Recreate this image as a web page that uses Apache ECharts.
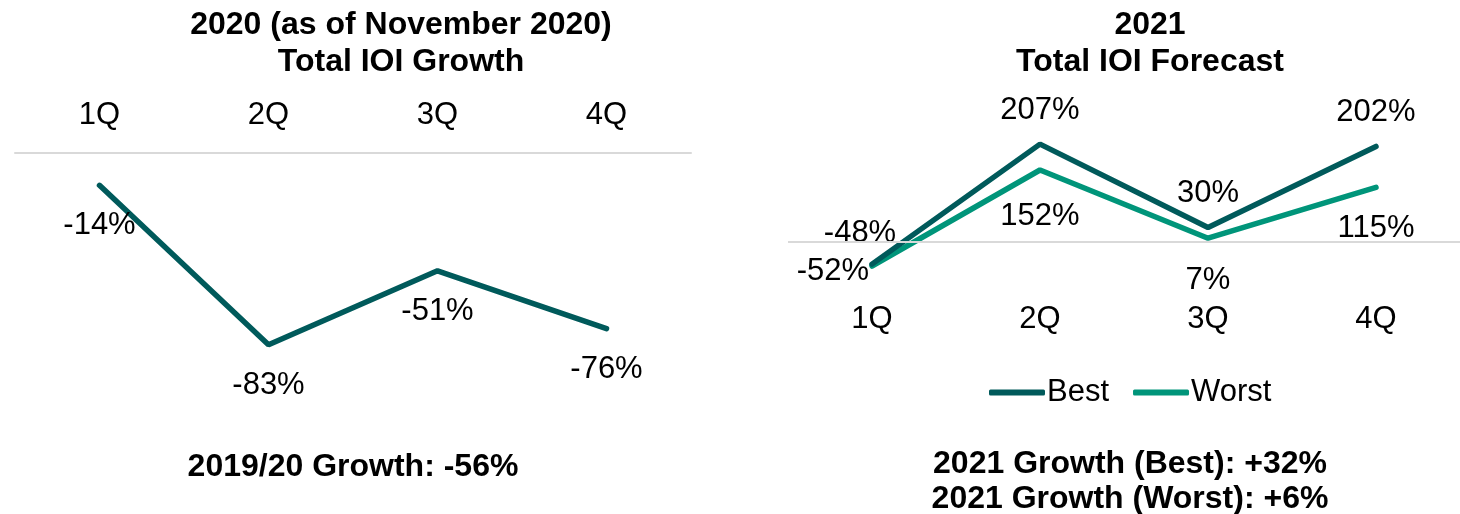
<!DOCTYPE html>
<html>
<head>
<meta charset="utf-8">
<script src="https://cdn.jsdelivr.net/npm/echarts@6/dist/echarts.min.js"></script>
<style>
  html, body { margin: 0; padding: 0; background: #fff; }
  #chart { width: 1460px; height: 514px; }
</style>
</head>
<body>
<div id="chart"></div>
<script>
  // data
  const quarters = ['1Q', '2Q', '3Q', '4Q']
  const growth2020 = [-14, -83, -51, -76]
  const best2021 = [-48, 207, 30, 202]
  const worst2021 = [-52, 152, 7, 115]

  const DARK = '#005a5b'
  const LIGHT = '#00957a'
  const FONT = "'Liberation Sans', Arial, sans-serif"

  const pct = p => p.value + '%'

  // per-point label placement, right chart
  const bestLabels = [
    {position: 'top', distance: 15, offset: [-12, 0]},
    {position: 'top', distance: 18},
    {position: 'top', distance: 18},
    {position: 'top', distance: 19}
  ]
  const worstLabels = [
    {position: 'left', distance: 3, offset: [0, 5]},
    {position: 'bottom', distance: 31},
    {position: 'bottom', distance: 27},
    {position: 'bottom', distance: 26}
  ]

  const titleText = {fontFamily: FONT, fontSize: 32, fontWeight: 'bold', color: '#000', lineHeight: 37}

  const chart = echarts.init(document.getElementById('chart'))
  chart.setOption({
    animation: false,
    textStyle: {fontFamily: FONT},
    title: [
      {text: '2020 (as of November 2020)\nTotal IOI Growth', left: 401, top: 7, textAlign: 'center', padding: 0, textStyle: titleText},
      {text: '2021\nTotal IOI Forecast', left: 1150, top: 7, textAlign: 'center', padding: 0, textStyle: titleText},
      {text: '2019/20 Growth: -56%', left: 353, top: 449, textAlign: 'center', padding: 0, textStyle: titleText},
      {text: '2021 Growth (Best): +32%\n2021 Growth (Worst): +6%', left: 1130, top: 447, textAlign: 'center', padding: 0,
        textStyle: Object.assign({}, titleText, {lineHeight: 35})}
    ],
    legend: {
      data: ['Best', 'Worst'],
      left: 984,
      top: 372,
      icon: 'roundRect',
      itemWidth: 56,
      itemHeight: 6,
      itemGap: 24,
      textStyle: {fontSize: 31, color: '#000', fontFamily: FONT, padding: [0, 0, 0, -3]}
    },
    grid: [
      {left: 15, top: 153, width: 676, height: 231},
      {left: 788, top: 138, width: 674, height: 160}
    ],
    xAxis: [
      {
        gridIndex: 0,
        type: 'category',
        position: 'top',
        data: quarters,
        axisLine: {lineStyle: {color: '#d9d9d9', width: 2}},
        axisTick: {show: false},
        axisLabel: {fontSize: 31, color: '#000', margin: 22}
      },
      {
        gridIndex: 1,
        type: 'category',
        position: 'bottom',
        data: quarters,
        axisLine: {show: false, onZero: false},
        axisTick: {show: false},
        axisLabel: {fontSize: 31, color: '#000', margin: 6}
      }
    ],
    yAxis: [
      {gridIndex: 0, type: 'value', min: -100, max: 0, show: false},
      {gridIndex: 1, type: 'value', min: -120, max: 220, show: false}
    ],
    series: [
      {
        name: '2020',
        type: 'line',
        xAxisIndex: 0,
        yAxisIndex: 0,
        data: growth2020,
        symbol: 'circle',
        symbolSize: 0,
        color: DARK,
        lineStyle: {color: DARK, width: 5.5, cap: 'round'},
        label: {show: true, position: 'bottom', distance: 25, fontSize: 31, color: '#000', formatter: pct}
      },
      {
        name: 'Best',
        type: 'line',
        xAxisIndex: 1,
        yAxisIndex: 1,
        data: best2021.map((v, i) => ({value: v, label: bestLabels[i]})),
        symbol: 'circle',
        symbolSize: 0,
        color: DARK,
        lineStyle: {color: DARK, width: 5.5, cap: 'round'},
        label: {show: true, fontSize: 31, color: '#000', formatter: pct},
        markLine: {
          silent: true,
          symbol: 'none',
          label: {show: false},
          lineStyle: {color: '#d9d9d9', width: 2, type: 'solid'},
          data: [{yAxis: 0}]
        },
        z: 3
      },
      {
        name: 'Worst',
        type: 'line',
        xAxisIndex: 1,
        yAxisIndex: 1,
        data: worst2021.map((v, i) => ({value: v, label: worstLabels[i]})),
        symbol: 'circle',
        symbolSize: 0,
        color: LIGHT,
        lineStyle: {color: LIGHT, width: 5.5, cap: 'round'},
        label: {show: true, fontSize: 31, color: '#000', formatter: pct},
        z: 2
      }
    ]
  })
</script>
</body>
</html>
